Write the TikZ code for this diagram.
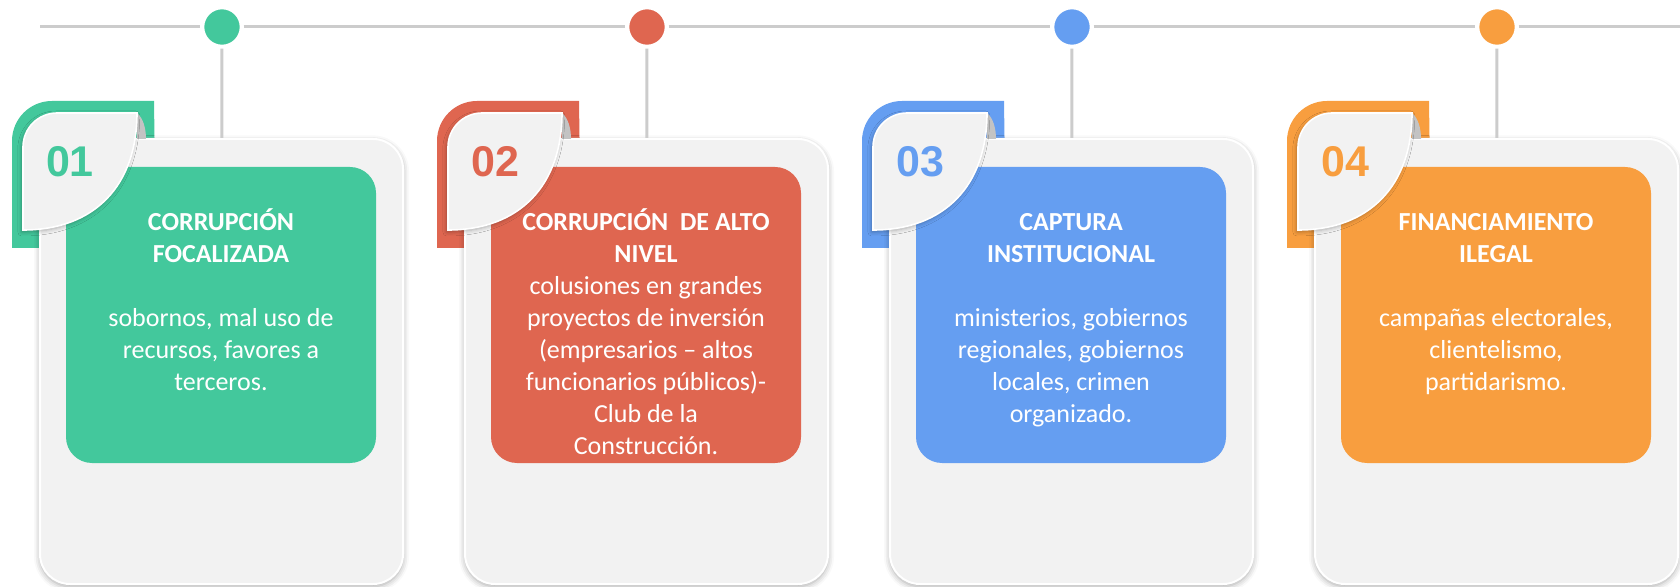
\documentclass[tikz,border=0pt]{standalone}
\usepackage{fontspec}
\setmainfont{Carlito}
\newfontfamily\numfont{Liberation Sans}
\usetikzlibrary{shadows.blur}
\definecolor{cgreen}{RGB}{67,200,156}
\definecolor{cred}{RGB}{223,102,80}
\definecolor{cblue}{RGB}{101,158,241}
\definecolor{corange}{RGB}{248,158,63}
\definecolor{cardgray}{RGB}{242,242,242}
\definecolor{lgray}{RGB}{204,204,204}
\definecolor{curlgray}{RGB}{195,195,195}
\tikzset{
  linegray/.style={draw=lgray, line width=1.5pt},
  dot/.style={circle, fill=#1, draw=white, line width=2pt, minimum size=19.7pt, inner sep=0pt},
  cardbox/.style={rectangle, rounded corners=15pt, fill=cardgray, draw=white, line width=1pt,
    minimum width=181.5pt, minimum height=222.5pt, inner sep=0pt,
    blur shadow={shadow xshift=0pt, shadow yshift=-1.2pt, shadow blur radius=3pt, shadow opacity=35}},
  innerbox/.style={rectangle, rounded corners=13pt, minimum width=155pt, minimum height=148pt, inner sep=0pt},
  tabshape/.style={fill=#1},
  leafshape/.style={fill=cardgray, draw=white, line width=0.8pt,
    blur shadow={shadow xshift=-0.6pt, shadow yshift=-1pt, shadow blur radius=2pt, shadow opacity=30}},
  numtext/.style={font=\numfont\bfseries\fontsize{21.5}{26}\selectfont, inner sep=0pt},
  bodytext/.style={text=white, align=center, inner sep=0pt, font=\fontsize{13}{16}\selectfont},
}
\newcommand\MkCard[5]{%
  % #1 id, #2 left edge, #3 colour, #4 number, #5 text
  \fill[tabshape=#3] ({#2-28},248) [rounded corners=20pt] -- ({#2-28},101) [sharp corners] -- ({#2+114},101) -- ({#2+116},248) -- cycle;
  \node[cardbox] (card#1) at ({#2+181.5},361.5) {};
  \node[innerbox, fill=#3] (in#1) at ({#2+181},315) {};
  \fill[curlgray] ({#2+97},113) .. controls ({#2+103},118) and ({#2+106},128) .. ({#2+106},139) -- ({#2+97},139) -- cycle;
  \filldraw[leafshape] ({#2-17},230) [rounded corners=17pt] -- ({#2-17},113) [sharp corners] -- ({#2+97},113)
     .. controls ({#2+97},185) and ({#2+55},230) .. ({#2-17},230) -- cycle;
  \node[numtext, text=#3] (n#1) at ({#2+30},162) {#4};
  \node[bodytext, anchor=north] (t#1) at ({#2+181},206.5) {#5};
}
\begin{document}
\begin{tikzpicture}[x=0.5pt, y=-0.5pt]
\useasboundingbox (0,0) rectangle (1680,587);
% timeline
\coordinate (hl) at (40,27);
\coordinate (hr) at (1680,27);
\node[dot=cgreen] (c1) at (222,27) {};
\node[dot=cred] (c2) at (647,27) {};
\node[dot=cblue] (c3) at (1072,27) {};
\node[dot=corange] (c4) at (1497,27) {};
\draw[linegray] (hl) -- (c1);
\draw[linegray] (c1) -- (c2);
\draw[linegray] (c2) -- (c3);
\draw[linegray] (c3) -- (c4);
\draw[linegray] (c4) -- (hr);
% cards
\MkCard{1}{40}{cgreen}{01}{\rule{0pt}{12pt}\textbf{CORRUPCIÓN}\\\textbf{FOCALIZADA}\\[16pt]sobornos, mal uso de\\recursos, favores a\\terceros.}
\MkCard{2}{465}{cred}{02}{\rule{0pt}{12pt}\textbf{CORRUPCIÓN~ DE ALTO}\\\textbf{NIVEL}\\colusiones en grandes\\proyectos de inversión\\(empresarios – altos\\funcionarios públicos)-\\Club de la\\Construcción.}
\MkCard{3}{890}{cblue}{03}{\rule{0pt}{12pt}\textbf{CAPTURA}\\\textbf{INSTITUCIONAL}\\[16pt]ministerios, gobiernos\\regionales, gobiernos\\locales, crimen\\organizado.}
\MkCard{4}{1315}{corange}{04}{\rule{0pt}{12pt}\textbf{FINANCIAMIENTO}\\\textbf{ILEGAL}\\[16pt]campañas electorales,\\clientelismo,\\partidarismo.}
% connectors from dots to cards
\draw[linegray] (c1) -- (card1);
\draw[linegray] (c2) -- (card2);
\draw[linegray] (c3) -- (card3);
\draw[linegray] (c4) -- (card4);
\end{tikzpicture}
\end{document}
